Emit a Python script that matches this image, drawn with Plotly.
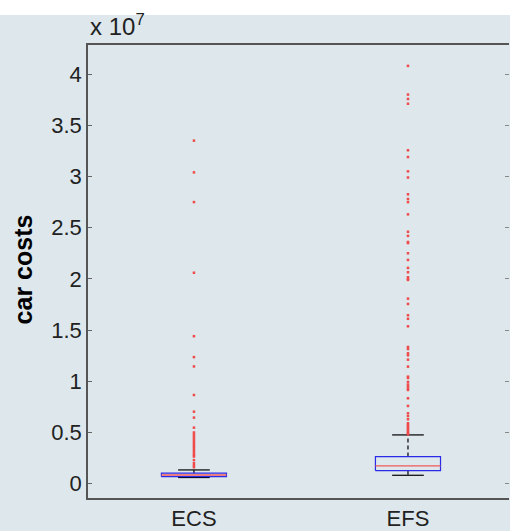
import plotly.graph_objects as go

categories = ["ECS", "EFS"]
positions = [1, 2]

# box statistics (car costs)
q1 = [0.068e7, 0.127e7]
median = [0.085e7, 0.174e7]
q3 = [0.102e7, 0.265e7]
lower_whisker = [0.060e7, 0.082e7]
upper_whisker = [0.134e7, 0.476e7]

ecs_outliers = [3.35e7, 3.04e7, 2.75e7, 2.06e7, 1.44e7, 1.236e7, 1.145e7, 0.866e7,
                0.703e7, 0.645e7, 0.547e7, 0.50e7, 0.48e7, 0.46e7, 0.44e7, 0.42e7,
                0.40e7, 0.38e7, 0.36e7, 0.34e7, 0.32e7, 0.30e7, 0.28e7, 0.265e7,
                0.23e7, 0.20e7, 0.18e7, 0.16e7]
efs_outliers = [4.08e7, 3.80e7, 3.757e7, 3.71e7, 3.256e7, 3.19e7, 3.05e7, 2.99e7,
                2.826e7, 2.78e7, 2.75e7, 2.63e7, 2.46e7, 2.42e7, 2.36e7, 2.35e7,
                2.25e7, 2.185e7, 2.107e7, 2.065e7, 2.016e7, 2.0e7, 1.99e7, 1.807e7,
                1.755e7, 1.645e7, 1.61e7, 1.537e7, 1.335e7, 1.315e7, 1.273e7,
                1.254e7, 1.211e7, 1.143e7, 1.045e7, 1.032e7, 0.993e7, 0.967e7,
                0.948e7, 0.928e7, 0.915e7, 0.834e7, 0.759e7, 0.687e7, 0.66e7,
                0.629e7, 0.59e7, 0.575e7, 0.56e7, 0.545e7, 0.53e7, 0.515e7,
                0.50e7, 0.49e7, 0.48e7]
outliers = [ecs_outliers, efs_outliers]

ytick_vals = [0, 0.5e7, 1e7, 1.5e7, 2e7, 2.5e7, 3e7, 3.5e7, 4e7]
ytick_text = ["0", "0.5", "1", "1.5", "2", "2.5", "3", "3.5", "4"]

BG = "#dde7ec"
BOX_HW = 0.152
CAP_HW = 0.074
YRANGE = [-0.14e7, 4.284e7]

fig = go.Figure()

for i, p in enumerate(positions):
    # whiskers (dashed black)
    fig.add_trace(go.Scatter(x=[p, p, None, p, p],
                             y=[q3[i], upper_whisker[i], None, q1[i], lower_whisker[i]],
                             mode="lines", line=dict(color="black", width=1.2, dash="4px,3px"),
                             hoverinfo="skip", showlegend=False))
    # caps
    fig.add_trace(go.Scatter(x=[p - CAP_HW, p + CAP_HW, None, p - CAP_HW, p + CAP_HW],
                             y=[upper_whisker[i], upper_whisker[i], None, lower_whisker[i], lower_whisker[i]],
                             mode="lines", line=dict(color="black", width=1.2),
                             hoverinfo="skip", showlegend=False))
    # box
    fig.add_trace(go.Scatter(x=[p - BOX_HW, p + BOX_HW, p + BOX_HW, p - BOX_HW, p - BOX_HW],
                             y=[q1[i], q1[i], q3[i], q3[i], q1[i]],
                             mode="lines", line=dict(color="#2a2ae8", width=1.2),
                             hoverinfo="skip", showlegend=False))
    # median
    fig.add_trace(go.Scatter(x=[p - BOX_HW, p + BOX_HW], y=[median[i], median[i]],
                             mode="lines", line=dict(color="#f05a5a", width=1.4),
                             hoverinfo="skip", showlegend=False))
    # outliers
    fig.add_trace(go.Scatter(x=[p] * len(outliers[i]), y=outliers[i], mode="markers",
                             marker=dict(color="#f04a4a", size=2.5, symbol="square", line=dict(width=0)),
                             hoverinfo="skip", showlegend=False))

# invisible trace to carry the right-hand tick axis
fig.add_trace(go.Scatter(x=[positions[0]], y=[ytick_vals[0]], yaxis="y2", mode="markers",
                         marker=dict(opacity=0), hoverinfo="skip", showlegend=False))

fig.update_layout(
    width=510, height=531,
    margin=dict(l=88, r=1, t=45, b=33),
    paper_bgcolor=BG, plot_bgcolor=BG,
    font=dict(family="Liberation Sans, Arial, sans-serif", color="#222"),
    xaxis=dict(range=[0.505, 2.472], tickvals=positions, ticktext=categories,
               ticks="", showline=True, linecolor="#555", linewidth=1.5, mirror=True,
               showgrid=False, zeroline=False, tickfont=dict(size=22, color="#222")),
    yaxis=dict(range=YRANGE, tickvals=ytick_vals, ticktext=ytick_text,
               ticks="inside", ticklen=4, tickcolor="#666", showline=True,
               linecolor="#555", linewidth=1.5, mirror=False,
               showgrid=False, zeroline=False, tickfont=dict(size=22, color="#222")),
    yaxis2=dict(range=YRANGE, tickvals=ytick_vals, overlaying="y", side="right",
                ticks="inside", ticklen=4, tickcolor="#888", showline=False,
                showticklabels=False, showgrid=False, zeroline=False),
    shapes=[dict(type="rect", xref="paper", yref="paper", x0=-0.3, x1=1.1,
                 y0=1.066, y1=1.12, fillcolor="white", line=dict(width=0), layer="below")],
    annotations=[
        dict(text="<b>car costs</b>", textangle=-90, xref="paper", yref="paper",
             x=-0.154, y=0.505, xanchor="center", yanchor="middle", showarrow=False,
             font=dict(size=25, color="black")),
        dict(text="x 10<sup>7</sup>", xref="paper", yref="paper", x=0.0, y=1.0,
             xanchor="left", yanchor="bottom", yshift=3, showarrow=False,
             font=dict(size=24, color="#222")),
    ],
)

fig.write_html("out.html")
